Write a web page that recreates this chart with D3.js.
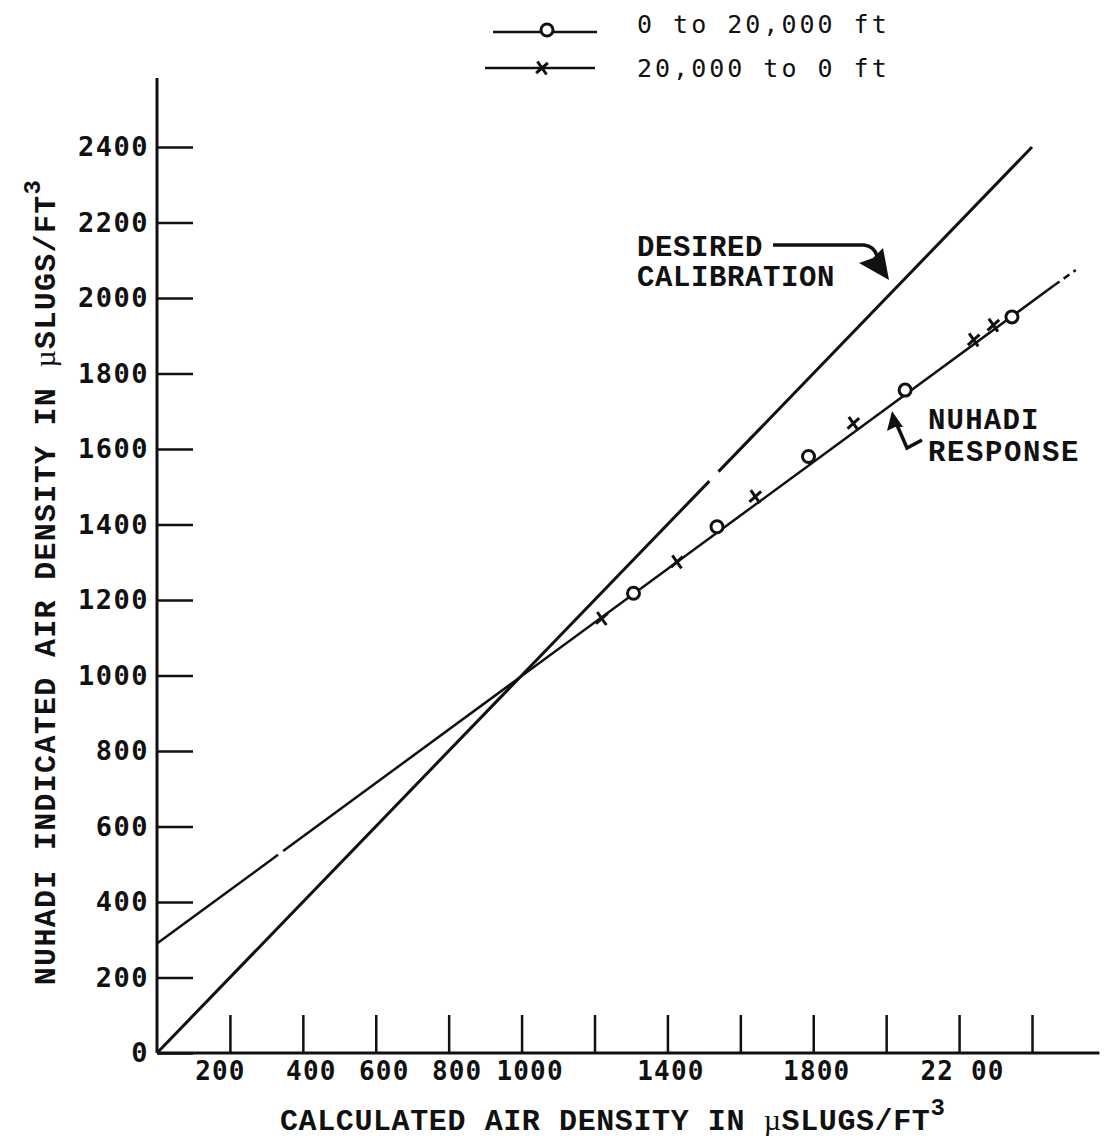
<!DOCTYPE html>
<html>
<head>
<meta charset="utf-8">
<script src="https://cdn.jsdelivr.net/npm/d3@7"></script>
<style>
  html, body { margin: 0; padding: 0; background: #fff; }
  svg { display: block; }
</style>
</head>
<body>
<div id="chart"></div>
<script>
// ---------- data ----------
const xTickValues = [200, 400, 600, 800, 1000, 1200, 1400, 1600, 1800, 2000, 2200, 2400];
const xLabelValues = [200, 400, 600, 800, 1000, 1400, 1800, 2200];
const xLabelTexts = ["200", "400", "600", "800", "1000", "1400", "1800", "22 00"];
const yTickValues = [0, 200, 400, 600, 800, 1000, 1200, 1400, 1600, 1800, 2000, 2200, 2400];
const yLabelTexts = ["0", "200", "400", "600", "800", "1000", "1200", "1400", "1600", "1800", "2000", "2200", "2400"];

// desired calibration (y = x), with the small break seen in the original
const desiredX = [0, 1515, null, 1540, 2400];
const desiredY = [0, 1515, null, 1540, 2400];

// NUHADI response line
const responseX = [0, 332, null, 346, 2460];
const responseY = [290, 525, null, 535, 2033];
const responseTailX = [2460, 2520];
const responseTailY = [2033, 2074];

// test points
const ascentCalc = [1307, 1536, 1787, 2052, 2345];          // 0 to 20,000 ft (circles)
const ascentInd  = [1218, 1394, 1580, 1756, 1950];
const descentCalc = [1220, 1426, 1641, 1910, 2240, 2294];   // 20,000 to 0 ft (crosses)
const descentInd  = [1151, 1301, 1474, 1668, 1889, 1928];

const legendLabels = ["0 to 20,000 ft", "20,000 to 0 ft"];

// ---------- chart ----------
const W = 1105, H = 1139;
const svg = d3.select("#chart").append("svg").attr("width", W).attr("height", H);

const x = d3.scaleLinear().domain([0, 2400]).range([157, 1032]);
const y = d3.scaleLinear().domain([0, 2400]).range([1053, 147]);

const titleFont = "'Liberation Mono', 'Courier New', monospace";
const tickFont = "'DejaVu Sans Mono', monospace";
const ink = "#111";

// axis lines
svg.append("line").attr("x1", x(0)).attr("x2", x(2585)).attr("y1", y(0)).attr("y2", y(0))
  .attr("stroke", ink).attr("stroke-width", 3);
svg.append("line").attr("x1", x(0)).attr("x2", x(0)).attr("y1", y(0)).attr("y2", y(2583))
  .attr("stroke", ink).attr("stroke-width", 3);

// x axis (ticks pointing up)
const xLabelMap = new Map(xLabelValues.map((v, i) => [v, xLabelTexts[i]]));
const xAxis = d3.axisBottom(x).tickValues(xTickValues)
  .tickSizeInner(-38).tickSizeOuter(0).tickPadding(9)
  .tickFormat(d => xLabelMap.get(d) || "");
const gx = svg.append("g").attr("transform", `translate(0,${y(0)})`).call(xAxis);
gx.select(".domain").remove();
gx.selectAll(".tick line").attr("stroke", ink).attr("stroke-width", 2.5);
gx.selectAll(".tick text").attr("font-family", tickFont).attr("font-size", 26)
  .attr("font-weight", "bold").attr("letter-spacing", 1.2).attr("fill", ink)
  .attr("dx", d => (d === 200 ? -10 : d <= 1000 ? 8 : 3));

// y axis (ticks pointing right, labels left)
const yAxis = d3.axisLeft(y).tickValues(yTickValues)
  .tickSizeInner(-36).tickSizeOuter(0).tickPadding(8)
  .tickFormat((d, i) => yLabelTexts[i]);
const gy = svg.append("g").attr("transform", `translate(${x(0)},0)`).call(yAxis);
gy.select(".domain").remove();
gy.selectAll(".tick line").attr("stroke", ink).attr("stroke-width", 2.5);
gy.selectAll(".tick text").attr("font-family", tickFont).attr("font-size", 27)
  .attr("font-weight", "bold").attr("letter-spacing", 1.5).attr("fill", ink);

// lines
const mkLine = (xs, ys) => d3.line()
  .defined((d, i) => xs[i] !== null)
  .x((d, i) => x(xs[i])).y((d, i) => y(ys[i]))(xs);

svg.append("path").attr("d", mkLine(desiredX, desiredY))
  .attr("fill", "none").attr("stroke", ink).attr("stroke-width", 3);
svg.append("path").attr("d", mkLine(responseX, responseY))
  .attr("fill", "none").attr("stroke", ink).attr("stroke-width", 2.5);
svg.append("path").attr("d", mkLine(responseTailX, responseTailY))
  .attr("fill", "none").attr("stroke", ink).attr("stroke-width", 2.5)
  .attr("stroke-dasharray", "7,5");

// markers
function drawCircle(g, cx, cy) {
  g.append("circle").attr("cx", cx).attr("cy", cy).attr("r", 6)
    .attr("fill", "#fff").attr("stroke", ink).attr("stroke-width", 3);
}
function drawCross(g, cx, cy) {
  const s = 6.5;
  g.append("path").attr("d", `M${cx - s * 0.7},${cy - s}L${cx + s * 0.7},${cy + s}M${cx + s * 0.9},${cy - s * 0.8}L${cx - s * 0.9},${cy + s * 0.8}`)
    .attr("stroke", ink).attr("stroke-width", 3).attr("fill", "none");
}
const gm = svg.append("g");
ascentCalc.forEach((v, i) => drawCircle(gm, x(v), y(ascentInd[i])));
descentCalc.forEach((v, i) => drawCross(gm, x(v), y(descentInd[i])));

// axis titles
const xt = svg.append("text").attr("x", 280).attr("y", 1130)
  .attr("font-family", titleFont).attr("font-size", 30).attr("font-weight", "bold")
  .attr("letter-spacing", 0.6).attr("fill", ink);
xt.append("tspan").text("CALCULATED AIR DENSITY IN ");
xt.append("tspan").attr("font-family", "'Liberation Serif', serif").attr("font-weight", "normal").text("\u00B5");
xt.append("tspan").text("SLUGS/FT");
xt.append("tspan").attr("dy", -15).attr("font-size", 24).text("3");

const yt = svg.append("text").attr("transform", "translate(55,582) rotate(-90)")
  .attr("text-anchor", "middle")
  .attr("font-family", titleFont).attr("font-size", 30).attr("font-weight", "bold")
  .attr("letter-spacing", 1.3).attr("fill", ink);
yt.append("tspan").text("NUHADI INDICATED AIR DENSITY IN ");
yt.append("tspan").attr("font-family", "'Liberation Serif', serif").attr("font-weight", "normal").text("\u00B5");
yt.append("tspan").text("SLUGS/FT");
yt.append("tspan").attr("dy", -15).attr("font-size", 24).text("3");

// annotations
function ann(txt, px, py, ls) {
  svg.append("text").attr("x", px).attr("y", py).text(txt)
    .attr("font-family", titleFont).attr("font-size", 29)
    .attr("letter-spacing", ls).attr("font-weight", "bold").attr("fill", ink);
}
ann("DESIRED", 637, 256, 0.6);
ann("CALIBRATION", 637, 286, 0.6);
ann("NUHADI", 928, 429, 1.2);
ann("RESPONSE", 928, 461, 1.6);

// desired calibration arrow
svg.append("path").attr("d", "M773,245 L864,245 Q874,246 877,256")
  .attr("fill", "none").attr("stroke", ink).attr("stroke-width", 3.5);
svg.append("path").attr("d", "M889,280 L859,263 L873,258 L883,248 Z").attr("fill", ink);

// response arrow
svg.append("path").attr("d", "M897,425 L907,448 L922,440")
  .attr("fill", "none").attr("stroke", ink).attr("stroke-width", 3.5);
svg.append("path").attr("d", "M892,411 L887,431 L895,427 L903,427 Z").attr("fill", ink);

// legend
const lg = svg.append("g");
lg.append("line").attr("x1", 493).attr("x2", 597).attr("y1", 32).attr("y2", 32)
  .attr("stroke", ink).attr("stroke-width", 2.5);
drawCircle(lg, 547, 30);
lg.append("line").attr("x1", 485).attr("x2", 595).attr("y1", 68).attr("y2", 68)
  .attr("stroke", ink).attr("stroke-width", 2.5);
drawCross(lg, 542, 68);
legendLabels.forEach((t, i) => {
  lg.append("text").attr("x", 637).attr("y", i === 0 ? 33 : 77).text(t)
    .attr("font-family", tickFont).attr("font-size", 25).attr("letter-spacing", 3)
    .attr("fill", ink);
});
</script>
</body>
</html>
